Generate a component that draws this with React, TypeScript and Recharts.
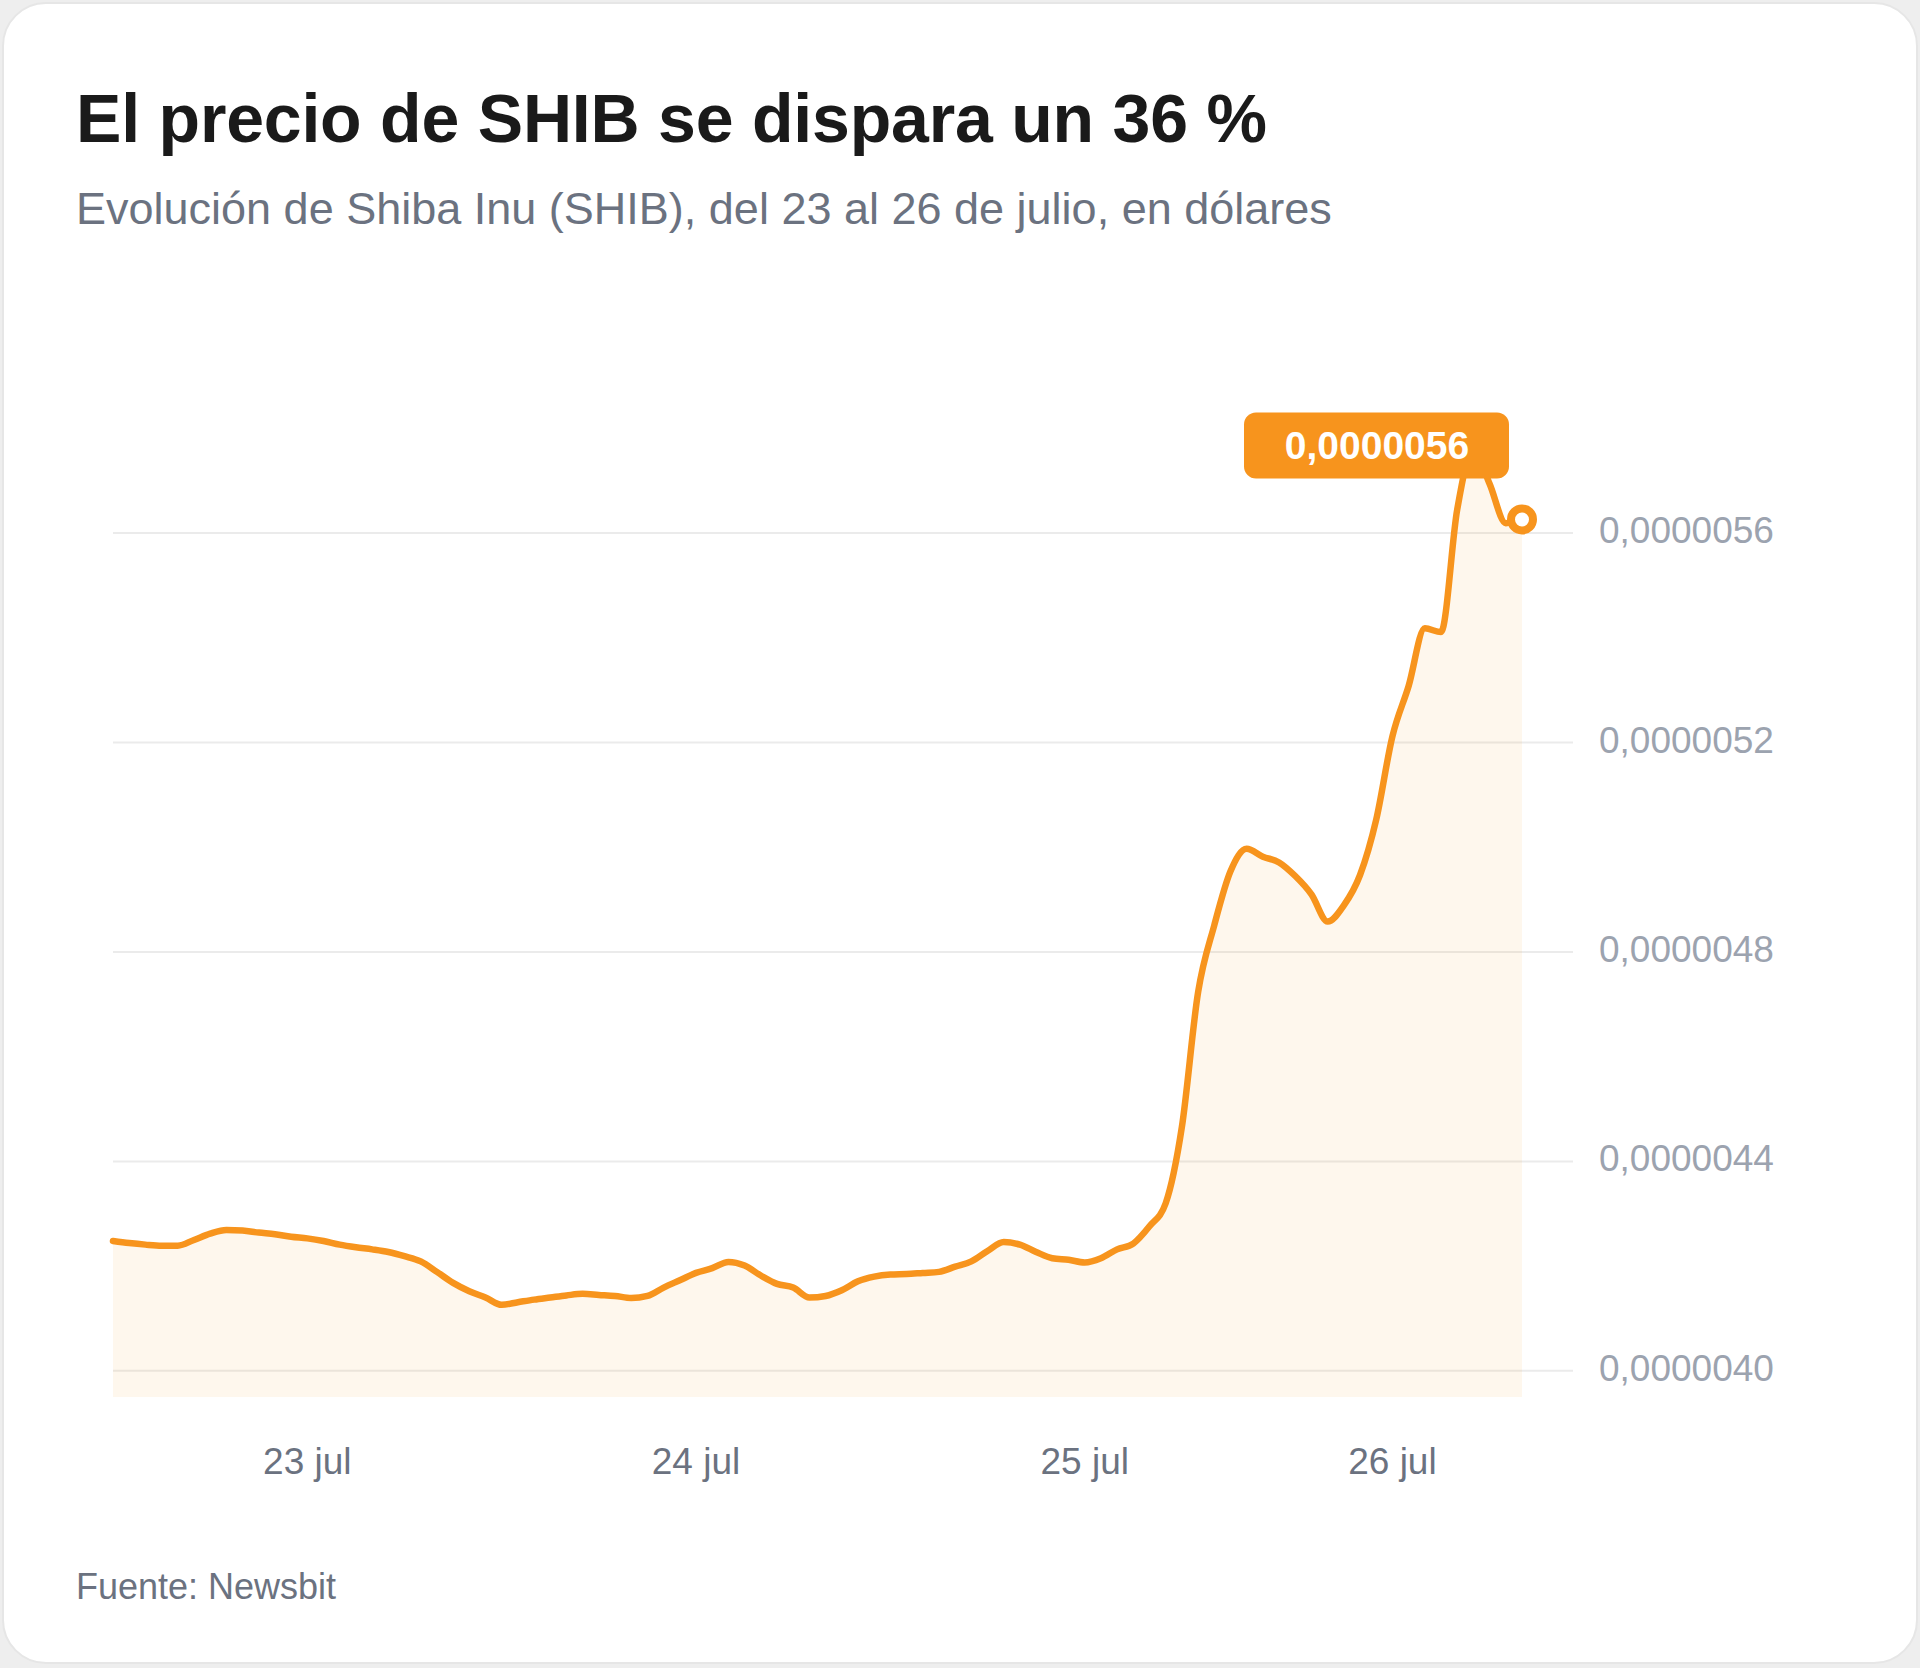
import { Area, AreaChart, CartesianGrid, ReferenceDot, XAxis, YAxis } from "recharts";

// SHIB hourly price in USD (22 jul 12:00 -> 26 jul)
const PRICES = [
  4.248e-6, 4.244e-6, 4.241e-6, 4.239e-6, 4.239e-6, 4.25e-6, 4.262e-6, 4.269e-6,
  4.268e-6, 4.264e-6, 4.261e-6, 4.256e-6, 4.253e-6, 4.248e-6, 4.241e-6, 4.236e-6,
  4.232e-6, 4.227e-6, 4.219e-6, 4.209e-6, 4.189e-6, 4.168e-6, 4.152e-6, 4.14e-6,
  4.126e-6, 4.131e-6, 4.136e-6, 4.14e-6, 4.144e-6, 4.147e-6, 4.145e-6, 4.143e-6,
  4.139e-6, 4.143e-6, 4.159e-6, 4.173e-6, 4.187e-6, 4.196e-6, 4.208e-6, 4.201e-6,
  4.182e-6, 4.166e-6, 4.159e-6, 4.14e-6, 4.143e-6, 4.154e-6, 4.171e-6, 4.18e-6,
  4.184e-6, 4.185e-6, 4.187e-6, 4.189e-6, 4.199e-6, 4.209e-6, 4.229e-6, 4.246e-6,
  4.241e-6, 4.227e-6, 4.215e-6, 4.212e-6, 4.207e-6, 4.215e-6, 4.232e-6, 4.243e-6,
  4.276e-6, 4.32e-6, 4.466e-6, 4.723e-6, 4.851e-6, 4.954e-6, 4.997e-6, 4.982e-6,
  4.971e-6, 4.945e-6, 4.91e-6, 4.858e-6, 4.889e-6, 4.947e-6, 5.053e-6, 5.212e-6,
  5.308e-6, 5.418e-6, 5.411e-6, 5.645e-6, 5.76e-6, 5.694e-6, 5.619e-6, 5.626e-6,
];

const DAY_TICKS = [12, 36, 60, 79];
const DAY_LABELS = ["23 jul", "24 jul", "25 jul", "26 jul"];
const PRICE_TICKS = [4.0e-6, 4.4e-6, 4.8e-6, 5.2e-6, 5.6e-6];

const ORANGE = "#F7941D";
const FONT = '"Liberation Sans", Arial, Helvetica, sans-serif';

const fmt = (v: number) => v.toFixed(7).replace(".", ",");

const data = PRICES.map((price, i) => ({ i, price }));
const last = data[data.length - 1];

function DayTick({ x, y, payload }: any) {
  const idx = DAY_TICKS.indexOf(payload.value);
  return (
    <text x={x} y={y + 77} textAnchor="middle" fill="#6b7280" fontSize={37} fontFamily={FONT}>
      {DAY_LABELS[idx]}
    </text>
  );
}

function PriceTick({ x, y, payload }: any) {
  return (
    <text x={x + 26} y={y + 10} textAnchor="start" fill="#9ca3af" fontSize={37} fontFamily={FONT}>
      {fmt(payload.value)}
    </text>
  );
}

function LastPoint({ cx, cy }: any) {
  return (
    <g>
      <rect x={cx - 278} y={cy - 107} width={265} height={66} rx={12} fill={ORANGE} />
      <text
        x={cx - 145}
        y={cy - 60}
        textAnchor="middle"
        fill="#fff"
        fontSize={39}
        fontWeight="bold"
        fontFamily={FONT}
      >
        {fmt(last.price)}
      </text>
      <circle cx={cx} cy={cy} r={11} fill="#fff" stroke={ORANGE} strokeWidth={8} />
    </g>
  );
}

export default function App() {
  return (
    <div style={{ position: "relative", width: 1920, height: 1668, background: "#eeeeee", fontFamily: FONT }}>
      <style>{`body{margin:0}`}</style>
      <div
        style={{
          position: "absolute",
          left: 2,
          top: 2,
          width: 1912,
          height: 1658,
          background: "#fff",
          border: "2px solid #e6e6e6",
          borderRadius: 44,
        }}
      />
      <div
        style={{
          position: "absolute",
          left: 76,
          top: 78,
          fontSize: 68,
          fontWeight: "bold",
          color: "#1a1a1a",
          lineHeight: "80px",
          whiteSpace: "nowrap",
          letterSpacing: -0.2,
        }}
      >
        El precio de SHIB se dispara un 36 %
      </div>
      <div
        style={{
          position: "absolute",
          left: 76,
          top: 181,
          fontSize: 45,
          color: "#6b7280",
          lineHeight: "56px",
          whiteSpace: "nowrap",
        }}
      >
        Evolución de Shiba Inu (SHIB), del 23 al 26 de julio, en dólares
      </div>
      <div style={{ position: "absolute", left: 0, top: 0 }}>
        <AreaChart width={1920} height={1668} data={data} margin={{ top: 376, right: 0, bottom: 0, left: 113 }}>
          <CartesianGrid
            horizontal
            vertical={false}
            horizontalValues={PRICE_TICKS}
            stroke="#ebebeb"
            strokeWidth={2}
          />
          <XAxis
            dataKey="i"
            type="number"
            domain={[0, PRICES.length - 1]}
            ticks={DAY_TICKS}
            padding={{ left: 0, right: 51 }}
            height={271}
            axisLine={false}
            tickLine={false}
            tickSize={0}
            tickMargin={0}
            tick={<DayTick />}
            interval={0}
          />
          <YAxis
            orientation="right"
            type="number"
            domain={[3.95e-6, 5.9e-6]}
            ticks={PRICE_TICKS}
            width={347}
            axisLine={false}
            tickLine={false}
            tickSize={0}
            tickMargin={0}
            tick={<PriceTick />}
            allowDataOverflow
          />
          <Area
            type="monotone"
            dataKey="price"
            stroke={ORANGE}
            strokeWidth={6.5}
            strokeLinejoin="round"
            strokeLinecap="round"
            fill={ORANGE}
            fillOpacity={0.08}
            dot={false}
            activeDot={false}
            isAnimationActive={false}
          />
          <ReferenceDot x={last.i} y={last.price} r={11} shape={<LastPoint />} />
        </AreaChart>
      </div>
      <div
        style={{
          position: "absolute",
          left: 76,
          top: 1565,
          fontSize: 36,
          color: "#6b7280",
          lineHeight: "44px",
          whiteSpace: "nowrap",
        }}
      >
        Fuente: Newsbit
      </div>
    </div>
  );
}
